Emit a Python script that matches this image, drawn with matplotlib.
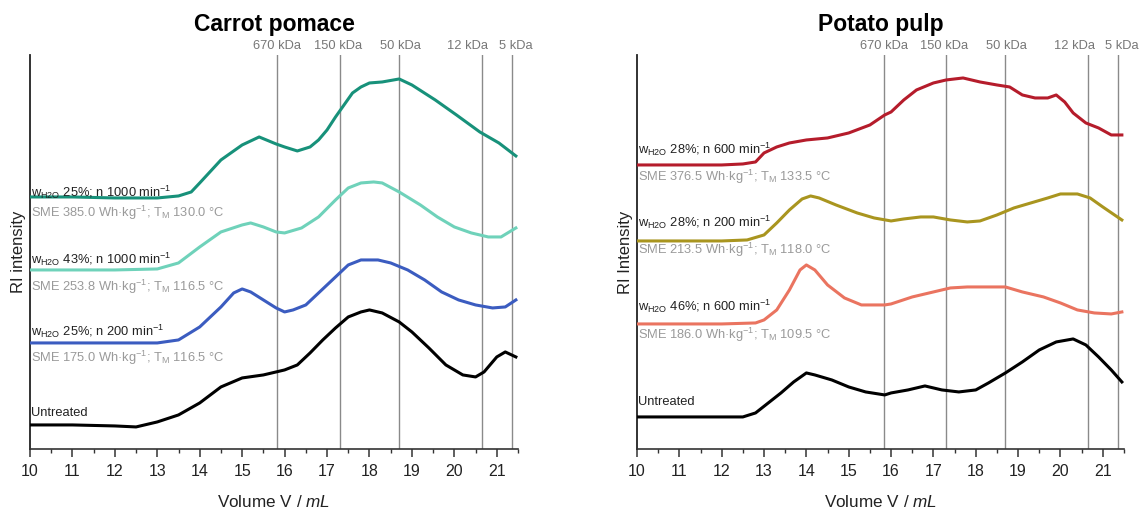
"""GPC-Elugramme: Karottentrester und Kartoffelpülpe"""

import matplotlib
matplotlib.use("Agg")
import matplotlib.pyplot as plt
from matplotlib.ticker import MultipleLocator

plt.rcParams["font.family"] = ["Liberation Sans", "DejaVu Sans"]
plt.rcParams["mathtext.fontset"] = "custom"
plt.rcParams["mathtext.rm"] = "Liberation Sans"
plt.rcParams["mathtext.it"] = "Liberation Sans:italic"

DARK  = "#222222"
GRAY  = "#9a9a9a"
VLINE = "#8a8a8a"
LBL_FS = 9.3

# Molmassen-Marker (Elutionsvolumen in mL)
marker_vol   = [15.83, 17.3, 18.7, 20.65, 21.36]
marker_label = ["670 kDa", "150 kDa", "50 kDa", "12 kDa", "5 kDa"]
# horizontale Verschiebung der Beschriftung gegenüber der Linie (mL)
marker_shift = [0.0, -0.05, 0.02, -0.33, 0.1]

# --- Carrot pomace -------------------------------------------------------
c1_x = [10, 11, 12, 13, 13.5, 13.8, 14, 14.5, 15, 15.4, 15.8, 16, 16.3, 16.6, 16.8,
        17, 17.2, 17.4, 17.6, 17.8, 18, 18.3, 18.7, 19, 19.55, 20.05, 20.6, 21.05, 21.45]
c1_y = [252, 252, 251, 251, 253, 257, 266, 289, 304, 312, 305, 302, 298, 302, 309,
        319, 332, 344, 356, 362, 366, 367, 370, 364, 349, 334, 317, 306, 293]

c2_x = [10, 11, 12, 13, 13.5, 14, 14.5, 15, 15.2, 15.5, 15.8, 16, 16.4, 16.8, 17.2,
        17.5, 17.8, 18.1, 18.3, 18.7, 19.2, 19.6, 20, 20.4, 20.8, 21.1, 21.45]
c2_y = [179, 179, 179, 180, 186, 202, 217, 224, 226, 222, 217, 216, 221, 232, 249,
        261, 266, 267, 266, 257, 244, 232, 222, 216, 212, 212, 221]

c3_x = [10, 11, 12, 13, 13.5, 14, 14.5, 14.8, 15, 15.2, 15.5, 15.8, 16, 16.2, 16.5,
        16.8, 17.2, 17.5, 17.8, 18.2, 18.5, 18.9, 19.3, 19.7, 20.1, 20.5, 20.9, 21.2, 21.45]
c3_y = [106, 106, 106, 106, 109, 122, 142, 156, 160, 157, 149, 141, 137, 139, 144,
        156, 172, 184, 189, 189, 186, 179, 169, 157, 149, 144, 141, 142, 149]

c4_x = [10, 11, 12, 12.5, 13, 13.5, 14, 14.5, 15, 15.5, 15.8, 16, 16.3, 16.6, 16.9,
        17.2, 17.5, 17.8, 18, 18.3, 18.7, 19, 19.4, 19.8, 20.2, 20.5, 20.7, 21, 21.2, 21.45]
c4_y = [24, 24, 23, 22, 27, 34, 46, 62, 71, 74, 77, 79, 84, 96, 109,
        121, 132, 137, 139, 136, 127, 117, 101, 84, 74, 72, 77, 92, 97, 92]

# --- Potato pulp ---------------------------------------------------------
p1_x = [10, 11, 12, 12.5, 12.8, 13, 13.3, 13.6, 14, 14.5, 15, 15.5, 15.85, 16, 16.3,
        16.6, 17, 17.3, 17.7, 18.1, 18.5, 18.8, 19.1, 19.4, 19.7, 19.9, 20.1, 20.3,
        20.6, 20.9, 21.2, 21.45]
p1_y = [284, 284, 284, 285, 287, 296, 302, 306, 309, 311, 316, 324, 334, 337, 349,
        359, 366, 369, 371, 367, 364, 362, 354, 351, 351, 354, 347, 336,
        326, 321, 314, 314]

p2_x = [10, 11, 12, 12.6, 13, 13.3, 13.6, 13.9, 14.1, 14.3, 14.7, 15.2, 15.6, 16,
        16.3, 16.7, 17, 17.4, 17.8, 18.1, 18.5, 18.9, 19.3, 19.7, 20, 20.4, 20.7, 21, 21.45]
p2_y = [208, 208, 208, 209, 214, 226, 239, 250, 253, 251, 244, 236, 231, 228,
        230, 232, 232, 229, 227, 228, 234, 241, 246, 251, 255, 255, 251, 242, 229]

p3_x = [10, 11, 12, 12.8, 13, 13.3, 13.6, 13.85, 14, 14.2, 14.5, 14.9, 15.3, 15.85,
        16, 16.5, 17, 17.4, 17.8, 18.2, 18.7, 19.1, 19.6, 20, 20.4, 20.8, 21.2, 21.45]
p3_y = [125, 125, 125, 126, 129, 139, 159, 179, 184, 179, 164, 151, 144, 144,
        145, 152, 157, 161, 162, 162, 162, 157, 152, 146, 139, 136, 135, 137]

p4_x = [10, 11, 12, 12.5, 12.8, 13.1, 13.4, 13.7, 14, 14.2, 14.6, 15, 15.4, 15.85,
        16, 16.4, 16.8, 17.2, 17.6, 18, 18.3, 18.7, 19.1, 19.5, 19.9, 20.3, 20.6,
        20.9, 21.2, 21.45]
p4_y = [32, 32, 32, 32, 36, 46, 56, 67, 76, 74, 69, 62, 57, 54,
        56, 59, 63, 59, 57, 59, 66, 76, 87, 99, 107, 110, 104,
        92, 79, 67]

carrot_series = [
    (c1_x, c1_y, "#17917a", "25%", "1000", "385.0", "130.0"),
    (c2_x, c2_y, "#6fd2ba", "43%", "1000", "253.8", "116.5"),
    (c3_x, c3_y, "#3b5cc0", "25%", "200", "175.0", "116.5"),
]
potato_series = [
    (p1_x, p1_y, "#b51c2b", "28%", "600", "376.5", "133.5"),
    (p2_x, p2_y, "#a9951f", "28%", "200", "213.5", "118.0"),
    (p3_x, p3_y, "#ea7460", "46%", "600", "186.0", "109.5"),
]

# Beschriftungspositionen (Pixel-Höhe über der x-Achse)
carrot_lbl = [(257, 236), (190, 162), (118, 91)]
potato_lbl = [(300, 272), (227, 199), (143, 114)]


def style_axes(ax, ylabel):
    ax.set_xlim(10, 21.5)
    ax.set_ylim(0, 394)
    for s in ("top", "right"):
        ax.spines[s].set_visible(False)
    ax.spines["left"].set_color(DARK)
    ax.spines["left"].set_linewidth(1.3)
    ax.spines["bottom"].set_color("#333333")
    ax.spines["bottom"].set_linewidth(1.2)
    ax.set_yticks([])
    ax.xaxis.set_major_locator(MultipleLocator(1))
    ax.xaxis.set_minor_locator(MultipleLocator(0.5))
    ax.tick_params(axis="x", which="major", length=6, width=1.1, colors="#333333",
                   labelsize=11.5, labelcolor=DARK, pad=5)
    ax.tick_params(axis="x", which="minor", length=3, width=1.0, colors="#333333")
    ax.set_xlabel("Volume V / $\\mathit{mL}$", fontsize=12.3, color=DARK, labelpad=11)
    ax.set_ylabel(ylabel, fontsize=12, color=DARK, labelpad=3)
    for v, dv, lab in zip(marker_vol, marker_shift, marker_label):
        ax.axvline(v, color=VLINE, lw=1.0, zorder=1)
        ax.text(v + dv, 1.022, lab, transform=ax.get_xaxis_transform(), ha="center",
                va="center", fontsize=LBL_FS, color="#777777")


def draw_panel(ax, title, series, lbl_pos, ux, uy, u_lbl, ylabel):
    style_axes(ax, ylabel)
    for (x, y, col, w, n, sme, tm), (ym, ys) in zip(series, lbl_pos):
        ax.plot(x, y, color=col, lw=2.2, zorder=3)
        ax.text(10.02, ym, f"w$_{{\\mathrm{{H2O}}}}$ {w}; n {n} min$^{{-1}}$",
                fontsize=LBL_FS, color=DARK, ha="left", va="center", zorder=4)
        ax.text(10.02, ys, f"SME {sme} Wh·kg$^{{-1}}$; T$_{{\\mathrm{{M}}}}$ {tm} °C",
                fontsize=LBL_FS, color=GRAY, ha="left", va="center", zorder=4)
    ax.plot(ux, uy, color="black", lw=2.2, zorder=3)
    ax.text(10.02, u_lbl, "Untreated", fontsize=LBL_FS, color=DARK, ha="left", va="center")
    ax.text(0.5, 1.078, title, transform=ax.transAxes, ha="center", va="center",
            fontsize=16.5, fontweight="bold", color="black")


fig = plt.figure(figsize=(11.44, 5.09), dpi=100)
ax1 = fig.add_axes([0.0262, 0.118, 0.4266, 0.774])
ax2 = fig.add_axes([0.5568, 0.118, 0.4257, 0.774])

draw_panel(ax1, "Carrot pomace", carrot_series, carrot_lbl, c4_x, c4_y, 36, "RI intensity")
draw_panel(ax2, "Potato pulp", potato_series, potato_lbl, p4_x, p4_y, 47, "RI Intensity")

fig.savefig("out.png", dpi=100, facecolor="white")
